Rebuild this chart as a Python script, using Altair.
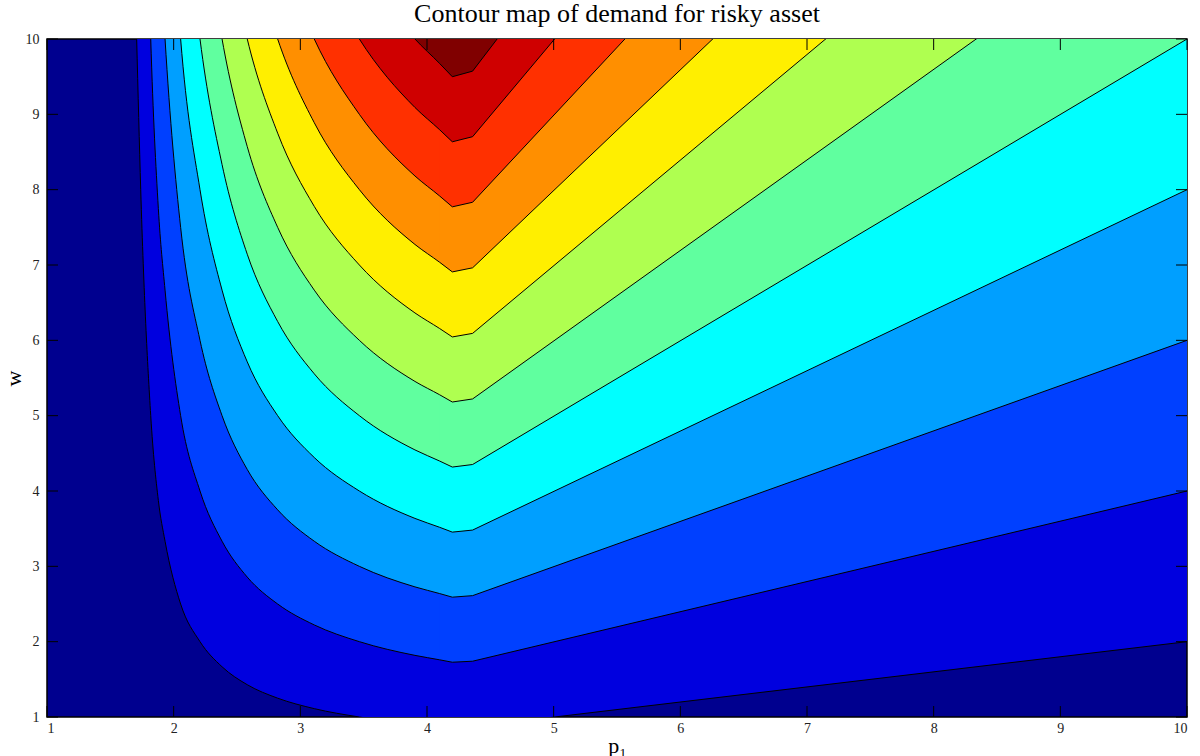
import altair as alt
import pandas as pd

# Demand per unit of wealth along p1 (every contour is level / this value)
p1_vals = [1.708, 1.74, 1.819, 1.879, 1.932, 2.055, 2.208, 2.382, 2.581,
           2.821, 3.11, 3.466, 3.905, 4.1, 4.2, 4.36, 10.0]
demand_per_w = [0.10, 0.125, 0.20, 0.258, 0.30, 0.40, 0.50, 0.60, 0.70,
                0.80, 0.90, 1.00, 1.10, 1.137, 1.158, 1.149, 0.50]

# Contour levels and the jet band colours (below level 1, then above each level)
levels = list(range(1, 12))
band_colors = ["#00008F", "#0000DF", "#0040FF", "#009FFF", "#00FFFF", "#60FF9F",
               "#AFFF50", "#FFEF00", "#FF8F00", "#FF3000", "#CF0000", "#800000"]

x_ticks = list(range(1, 11))
y_ticks = list(range(1, 11))
title_text = "Contour map of demand for risky asset"

W, H = 1140, 678
TICK = 11
SERIF = "Liberation Serif"
KINK = 4.2      # curved branch ends here, straight branch starts here
OVERLAP = 4.1   # straight fill starts a little earlier so the two fills overlap

rows = [{"level": lv, "p1": p, "g": g}
        for lv in levels for p, g in zip(p1_vals, demand_per_w)]
contours = pd.DataFrame(rows)
xticks_df = pd.DataFrame({"t": x_ticks})
yticks_df = pd.DataFrame({"t": y_ticks})

x_scale = alt.Scale(domain=[1, 10], nice=False, zero=False)
y_scale = alt.Scale(domain=[1, 10], nice=False, zero=False)

x_axis = alt.Axis(values=x_ticks, format="d", grid=False, ticks=False, domain=False,
                  labelFont=SERIF, labelFontSize=14, labelColor="#222222",
                  labelPadding=4, title="p\u2081", titleFont=SERIF,
                  titleFontSize=22, titleFontWeight="normal", titleColor="black",
                  titlePadding=0)
y_axis = alt.Axis(values=y_ticks, format="d", grid=False, ticks=False, domain=False,
                  labelFont=SERIF, labelFontSize=14, labelColor="#222222",
                  labelPadding=8, title="w", titleFont=SERIF,
                  titleFontSize=22, titleFontWeight="normal", titleColor="black",
                  titlePadding=0)

base = alt.Chart(contours).transform_calculate(w="datum.level / datum.g")
X = alt.X("p1:Q", scale=x_scale, axis=x_axis)
Y = alt.Y("w:Q", scale=y_scale, axis=y_axis, stack=None)

left_part = alt.datum.p1 <= KINK
right_fill = alt.datum.p1 >= OVERLAP
right_line = alt.datum.p1 >= KINK

layers = []
# filled regions: each level paints everything above its contour
for lv in levels:
    lvl = base.transform_filter(alt.datum.level == lv)
    layers.append(
        lvl.transform_filter(left_part)
        .mark_area(color=band_colors[lv], clip=True, interpolate="monotone")
        .encode(x=X, y=Y, y2=alt.datum(10))
    )
    layers.append(
        lvl.transform_filter(right_fill)
        .mark_area(color=band_colors[lv], clip=True, interpolate="linear")
        .encode(x=X, y=Y, y2=alt.datum(10))
    )

# contour lines: smooth on the curved side, straight on the linear side
layers.append(
    base.transform_filter(left_part)
    .mark_line(color="black", strokeWidth=1, clip=True, interpolate="monotone")
    .encode(x=X, y=Y, detail="level:N")
)
layers.append(
    base.transform_filter(right_line)
    .mark_line(color="black", strokeWidth=1, clip=True, interpolate="linear")
    .encode(x=X, y=Y, detail="level:N")
)

# inward tick marks on all four sides
tick_style = dict(color="black", strokeWidth=1)
layers.append(alt.Chart(xticks_df).mark_rule(**tick_style).encode(
    x=alt.X("t:Q", scale=x_scale, axis=x_axis), y=alt.value(H), y2=alt.value(H - TICK)))
layers.append(alt.Chart(xticks_df).mark_rule(**tick_style).encode(
    x=alt.X("t:Q", scale=x_scale, axis=x_axis), y=alt.value(0), y2=alt.value(TICK)))
layers.append(alt.Chart(yticks_df).mark_rule(**tick_style).encode(
    y=alt.Y("t:Q", scale=y_scale, axis=y_axis), x=alt.value(0), x2=alt.value(TICK)))
layers.append(alt.Chart(yticks_df).mark_rule(**tick_style).encode(
    y=alt.Y("t:Q", scale=y_scale, axis=y_axis), x=alt.value(W), x2=alt.value(W - TICK)))

# chart title above the frame
layers.append(
    alt.Chart(pd.DataFrame({"label": [title_text]}))
    .mark_text(font=SERIF, fontSize=26, color="black", align="center",
               baseline="alphabetic")
    .encode(text="label:N", x=alt.value(W / 2), y=alt.value(-17))
)

chart = (
    alt.layer(*layers)
    .properties(
        width=W,
        height=H,
        padding={"left": 47, "top": 39, "right": 13, "bottom": 39},
        autosize=alt.AutoSizeParams(type="none"),
    )
    .configure_view(fill=band_colors[0], stroke="black", strokeWidth=1.5)
)

chart.save("out.html", embed_options={"renderer": "svg", "actions": False})
